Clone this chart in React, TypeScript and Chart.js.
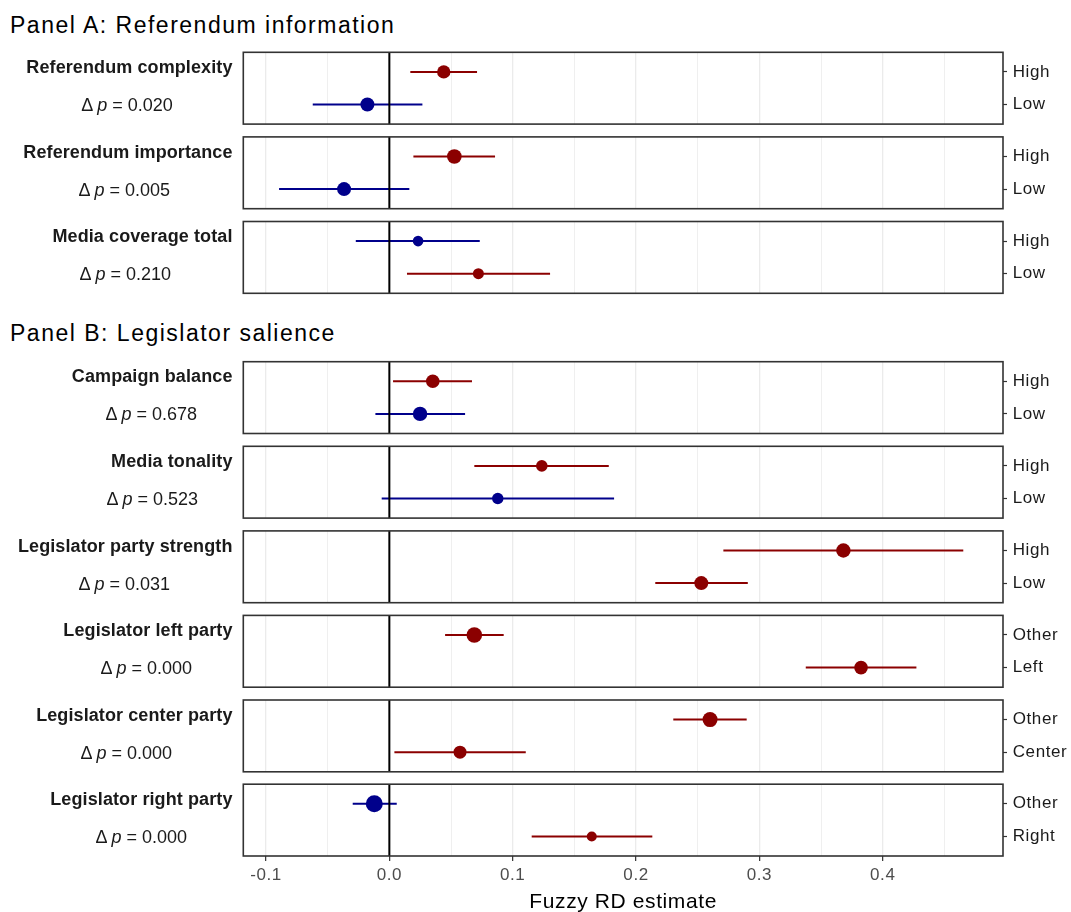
import React, { useEffect, useRef } from "react";
import { Chart, registerables } from "chart.js";

Chart.register(...registerables);

const FONT = '"Liberation Sans", Arial, Helvetica, sans-serif';
Chart.defaults.font.family = FONT;

// ---------------- data ----------------
const sectionTitles = ["Panel A: Referendum information", "Panel B: Legislator salience"];
const panelLabels = [
  "Referendum complexity",
  "Referendum importance",
  "Media coverage total",
  "Campaign balance",
  "Media tonality",
  "Legislator party strength",
  "Legislator left party",
  "Legislator center party",
  "Legislator right party",
];
const deltaP = ["0.020", "0.005", "0.210", "0.678", "0.523", "0.031", "0.000", "0.000", "0.000"];
const topLevels = ["High", "High", "High", "High", "High", "High", "Other", "Other", "Other"];
const bottomLevels = ["Low", "Low", "Low", "Low", "Low", "Low", "Left", "Center", "Right"];

const topEst = [0.0441, 0.0527, 0.0233, 0.0352, 0.1236, 0.3681, 0.0689, 0.26, -0.0122];
const topLo = [0.017, 0.0195, -0.0272, 0.003, 0.0689, 0.2708, 0.0452, 0.2302, -0.0297];
const topHi = [0.0711, 0.0857, 0.0733, 0.067, 0.1779, 0.4653, 0.0927, 0.2897, 0.006];

const bottomEst = [-0.0178, -0.0367, 0.0722, 0.0249, 0.0879, 0.2529, 0.3824, 0.0573, 0.1641];
const bottomLo = [-0.0621, -0.0894, 0.0143, -0.0113, -0.0062, 0.2156, 0.3376, 0.0041, 0.1154];
const bottomHi = [0.0268, 0.0162, 0.1303, 0.0614, 0.1822, 0.2906, 0.4273, 0.1106, 0.2132];

// relative marker size of each estimate
const topPointSize = [6.7, 7.3, 5.3, 6.8, 5.8, 7.2, 7.8, 7.5, 8.5];
const bottomPointSize = [7, 7, 5.5, 7.2, 5.7, 7, 6.8, 6.5, 5];

const xTickValues = [-0.1, 0, 0.1, 0.2, 0.3, 0.4];
const xTickLabels = ["-0.1", "0.0", "0.1", "0.2", "0.3", "0.4"];
const xTitle = "Fuzzy RD estimate";
const xRange = [-0.1184, 0.4975];

// ---------------- layout / style ----------------
const RED = "#8B0000";
const BLUE = "#00008B";
const W = 1071;
const PANEL_LEFT = 243.3;
const PANEL_RIGHT = 1003;
const PANEL_H = 71.8;
const panelTops = [52.3, 136.9, 221.5, 361.7, 446.3, 530.9, 615.4, 700.0, 784.2];
const sectionTitleY = [24.8, 333];
const deltaLeft = [81.2, 78.5, 79.5, 105.5, 106.5, 78.5, 100.5, 80.5, 95.5];

const colorOf = (lo: number) => (lo > 0 ? RED : BLUE);

const decoPlugin = {
  id: "panelDeco",
  beforeDraw(chart: any) {
    (chart.ctx as any).letterSpacing = "0.6px";
  },
  afterDatasetsDraw(chart: any) {
    const { ctx, chartArea, scales } = chart;
    const x0 = scales.x.getPixelForValue(0);
    ctx.save();
    ctx.strokeStyle = "#000";
    ctx.lineWidth = 2;
    ctx.beginPath();
    ctx.moveTo(x0, chartArea.top);
    ctx.lineTo(x0, chartArea.bottom);
    ctx.stroke();
    ctx.restore();
  },
  afterDraw(chart: any) {
    const { ctx, chartArea } = chart;
    ctx.save();
    ctx.strokeStyle = "#333333";
    ctx.lineWidth = 1.6;
    ctx.strokeRect(chartArea.left, chartArea.top, chartArea.right - chartArea.left, chartArea.bottom - chartArea.top);
    ctx.restore();
  },
};

function Panel({ idx }: { idx: number }) {
  const ref = useRef<HTMLCanvasElement>(null);
  const isLast = idx === panelLabels.length - 1;
  const T = panelTops[idx];
  const canvasTop = Math.floor(T) - 8;
  const canvasH = isLast ? 925 - canvasTop : Math.ceil(T + PANEL_H) + 8 - canvasTop;

  useEffect(() => {
    if (!ref.current) return;
    const padTop = T - canvasTop;
    const bottomEdge = T + PANEL_H - canvasTop;
    const xAxisH = isLast ? canvasH - bottomEdge : 0;
    const padBottom = isLast ? 0 : canvasH - bottomEdge;

    const rows = [
      { y: 2, est: topEst[idx], lo: topLo[idx], hi: topHi[idx], size: topPointSize[idx] },
      { y: 1, est: bottomEst[idx], lo: bottomLo[idx], hi: bottomHi[idx], size: bottomPointSize[idx] },
    ];

    const datasets: any[] = [];
    rows.forEach((r) => {
      const c = colorOf(r.lo);
      datasets.push({
        data: [{ x: r.est, y: r.y }],
        pointRadius: r.size,
        pointHoverRadius: r.size,
        pointBackgroundColor: c,
        pointBorderColor: c,
        pointBorderWidth: 0,
        order: 0,
      });
      datasets.push({
        data: [
          { x: r.lo, y: r.y },
          { x: r.hi, y: r.y },
        ],
        showLine: true,
        borderColor: c,
        borderWidth: 2,
        pointRadius: 0,
        pointHoverRadius: 0,
        fill: false,
        order: 1,
      });
    });

    const chart = new Chart(ref.current, {
      type: "scatter",
      data: { datasets },
      plugins: [decoPlugin],
      options: {
        animation: false,
        responsive: false,
        events: [],
        layout: {
          autoPadding: false,
          padding: { left: PANEL_LEFT, right: 0, top: padTop, bottom: padBottom },
        },
        plugins: { legend: { display: false }, tooltip: { enabled: false } },
        scales: {
          x: {
            type: "linear",
            min: xRange[0],
            max: xRange[1],
            afterBuildTicks: (s: any) => {
              const step = xTickValues[1] - xTickValues[0];
              const t: any[] = [];
              xTickValues.forEach((v) => {
                t.push({ value: v });
                t.push({ value: v + step / 2 });
              });
              s.ticks = t.filter((tt) => tt.value >= xRange[0] && tt.value <= xRange[1]);
            },
            afterFit: (s: any) => {
              s.height = xAxisH;
              s.paddingLeft = 0;
              s.paddingRight = 0;
            },
            border: { display: false },
            grid: {
              color: "#EBEBEB",
              lineWidth: (ctx: any) => (ctx.index % 2 === 0 ? 1.3 : 0.8),
              drawTicks: isLast,
              tickLength: 5,
              tickColor: (ctx: any) => (ctx.index % 2 === 0 ? "#333333" : "rgba(0,0,0,0)"),
              tickWidth: 1.2,
            },
            ticks: {
              display: isLast,
              autoSkip: false,
              maxRotation: 0,
              minRotation: 0,
              padding: 4,
              color: "#4D4D4D",
              font: { size: 17, family: FONT },
              callback: (_v: any, i: number) => (i % 2 === 0 ? xTickLabels[i / 2] : ""),
            },
            title: {
              display: isLast,
              text: xTitle,
              color: "#000",
              font: { size: 21, family: FONT },
              padding: { top: 0, bottom: 10.5 },
            },
          },
          y: {
            type: "linear",
            position: "right",
            min: 0.4,
            max: 2.6,
            afterBuildTicks: (s: any) => {
              s.ticks = [{ value: 1 }, { value: 2 }];
            },
            afterFit: (s: any) => {
              s.width = W - PANEL_RIGHT;
              s.paddingTop = 0;
              s.paddingBottom = 0;
            },
            border: { display: false },
            grid: {
              drawOnChartArea: false,
              drawTicks: true,
              tickLength: 4,
              tickColor: "#333333",
              tickWidth: 1.2,
            },
            ticks: {
              autoSkip: false,
              padding: 5.7,
              color: "#1A1A1A",
              font: { size: 17, family: FONT },
              callback: (v: any) => (v === 2 ? topLevels[idx] : bottomLevels[idx]),
            },
          },
        },
      } as any,
    });
    return () => chart.destroy();
  }, []);

  return (
    <canvas
      ref={ref}
      width={W}
      height={canvasH}
      style={{ position: "absolute", left: 0, top: canvasTop, width: W, height: canvasH }}
    />
  );
}

export default function App() {
  const textBase: React.CSSProperties = {
    position: "absolute",
    lineHeight: 1,
    whiteSpace: "nowrap",
    transform: "translateY(-50%)",
  };
  return (
    <div
      style={{
        position: "fixed",
        left: 0,
        top: 0,
        width: W,
        height: 912,
        overflow: "hidden",
        background: "#fff",
        fontFamily: FONT,
        color: "#000",
      }}
    >
      {panelLabels.map((lab, i) => (
        <Panel key={"c" + i} idx={i} />
      ))}
      {sectionTitles.map((t, k) => (
        <div key={t} style={{ ...textBase, left: 10, top: sectionTitleY[k], fontSize: 23, letterSpacing: "1.5px" }}>
          {t}
        </div>
      ))}
      {panelLabels.map((lab, i) => (
        <React.Fragment key={lab}>
          <div
            style={{
              ...textBase,
              right: W - 232.5,
              top: panelTops[i] + 14.7,
              fontSize: 18,
              letterSpacing: "0.1px",
              fontWeight: "bold",
              color: "#1A1A1A",
              textAlign: "right",
            }}
          >
            {lab}
          </div>
          <div style={{ ...textBase, left: deltaLeft[i], top: panelTops[i] + 52.6, fontSize: 18, color: "#1A1A1A" }}>
            Δ <i>p</i> = {deltaP[i]}
          </div>
        </React.Fragment>
      ))}
    </div>
  );
}
